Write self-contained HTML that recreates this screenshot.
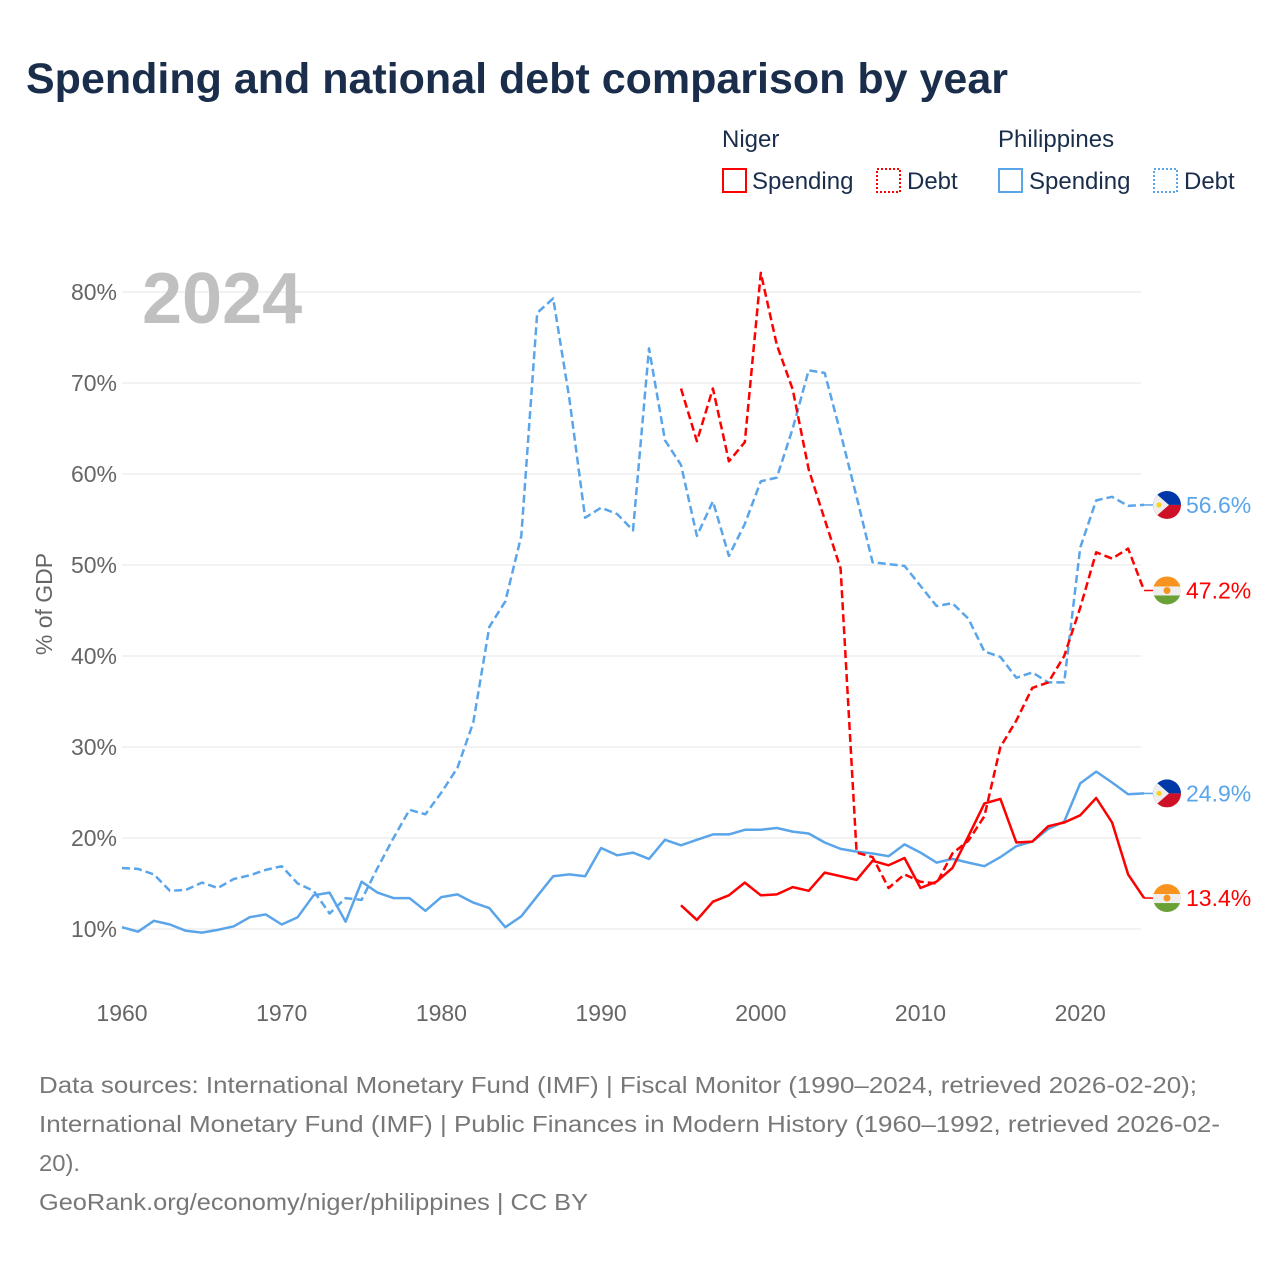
<!DOCTYPE html>
<html><head><meta charset="utf-8"><style>
html,body{margin:0;padding:0;background:#fff;}
body{width:1280px;height:1280px;overflow:hidden;font-family:"Liberation Sans",sans-serif;}
</style></head><body>
<svg width="1280" height="1280" viewBox="0 0 1280 1280" xmlns="http://www.w3.org/2000/svg" font-family="Liberation Sans, sans-serif">
<text x="26" y="93" font-size="43" font-weight="bold" fill="#1a2e4c">Spending and national debt comparison by year</text>
<g font-size="24" fill="#1a2e4c">
 <text x="722" y="147">Niger</text>
 <text x="998" y="147">Philippines</text>
 <g><rect x="723" y="169" width="23" height="23" fill="none" stroke="#f00" stroke-width="2"/><text x="752" y="189">Spending</text></g>
 <g><rect x="877" y="169" width="23" height="23" fill="none" stroke="#f00" stroke-width="2" stroke-dasharray="2,2"/><text x="907" y="189">Debt</text></g>
 <g><rect x="999" y="169" width="23" height="23" fill="none" stroke="#5aa5ea" stroke-width="2"/><text x="1029" y="189">Spending</text></g>
 <g><rect x="1154" y="169" width="23" height="23" fill="none" stroke="#5aa5ea" stroke-width="2" stroke-dasharray="2,2"/><text x="1184" y="189">Debt</text></g>
</g>
<g id="grid"></g>
<g id="yticks" font-size="23" fill="#666" text-anchor="end"></g>
<g id="xticks" font-size="23" fill="#666" text-anchor="middle"></g>
<text x="52" y="604" font-size="23" fill="#666" text-anchor="middle" transform="rotate(-90 52 604)">% of GDP</text>
<text x="142" y="323" font-size="72" font-weight="bold" fill="#c0c0c0">2024</text>
<g id="series"></g>
<g id="ends" font-size="23"></g>
<g font-size="23" fill="#777">
 <text x="39" y="1093" textLength="1158" lengthAdjust="spacingAndGlyphs">Data sources: International Monetary Fund (IMF) | Fiscal Monitor (1990–2024, retrieved 2026-02-20);</text>
 <text x="39" y="1132" textLength="1181" lengthAdjust="spacingAndGlyphs">International Monetary Fund (IMF) | Public Finances in Modern History (1960–1992, retrieved 2026-02-</text>
 <text x="39" y="1171" textLength="41" lengthAdjust="spacingAndGlyphs">20).</text>
 <text x="39" y="1210" textLength="549" lengthAdjust="spacingAndGlyphs">GeoRank.org/economy/niger/philippines | CC BY</text>
</g>
</svg>
<script>
const phSpendStart = 1960;
const phSpending = [10.2,9.7,10.9,10.5,9.8,9.6,9.9,10.3,11.3,11.6,10.5,11.3,13.7,14.0,10.8,15.2,14.0,13.4,13.4,12.0,13.5,13.8,12.9,12.3,10.2,11.4,13.6,15.8,16.0,15.8,18.9,18.1,18.4,17.7,19.8,19.2,19.8,20.4,20.4,20.9,20.9,21.1,20.7,20.5,19.5,18.8,18.5,18.3,18.0,19.3,18.4,17.3,17.7,17.3,16.9,17.9,19.1,19.6,21.0,21.8,26.0,27.3,26.1,24.8,24.9];
const phDebt = [16.7,16.6,16.0,14.2,14.3,15.1,14.5,15.5,15.9,16.5,16.9,15.0,14.2,11.7,13.4,13.2,16.7,20.0,23.1,22.6,25.0,27.7,32.7,43.2,46.0,53.2,77.7,79.3,68.4,55.2,56.3,55.6,53.8,73.8,63.7,61.0,53.2,57.0,51.0,54.5,59.2,59.6,65.0,71.4,71.1,64.5,57.5,50.3,50.1,49.9,47.7,45.5,45.8,44.1,40.5,39.9,37.6,38.2,37.1,37.1,51.9,57.1,57.5,56.5,56.6];
const neStart = 1995;
const neSpending = [12.6,11.0,13.0,13.7,15.1,13.7,13.8,14.6,14.2,16.2,15.8,15.4,17.5,17.0,17.8,14.5,15.2,16.7,20.2,23.8,24.3,19.5,19.6,21.3,21.7,22.5,24.4,21.7,16.0,13.4];
const neDebt = [69.4,63.6,69.4,61.4,63.5,82.1,74.2,69.3,60.5,55.0,49.6,18.4,17.9,14.5,16.0,15.2,15.0,18.3,19.7,22.4,30.0,32.9,36.5,37.1,40.0,45.3,51.4,50.7,51.8,47.2];
const yTicks = [10,20,30,40,50,60,70,80];
const xTicks = [1960,1970,1980,1990,2000,2010,2020];

const NS='http://www.w3.org/2000/svg';
const xS = yr => 122 + (yr-1960)*15.97;
const yS = v => 929 - (v-10)*9.1;
function mk(tag, attrs, parent){const e=document.createElementNS(NS,tag);for(const k in attrs)e.setAttribute(k,attrs[k]);parent.appendChild(e);return e;}
const grid=document.getElementById('grid'), yt=document.getElementById('yticks'), xt=document.getElementById('xticks');
yTicks.forEach(v=>{
  const l=mk('line',{x1:122,x2:1141,y1:yS(v),y2:yS(v),stroke:'#e4e4e4','stroke-width':1},grid);
  
  
  const t=mk('text',{x:117,y:yS(v)+8},yt); t.textContent=v+'%';
  
  
});
xTicks.forEach(yr=>{
  const t=mk('text',{x:xS(yr),y:1021},xt); t.textContent=yr;
  
  
});
const ser=document.getElementById('series');
function line(vals,start,color,dash,name){
  const d=vals.map((v,i)=>(i?'L':'M')+xS(start+i).toFixed(1)+' '+yS(v).toFixed(1)).join(' ');
  const p=mk('path',{d:d,fill:'none',stroke:color,'stroke-width':2.5,'stroke-linejoin':'round'},ser);
  if(dash)p.setAttribute('stroke-dasharray','8,4');
  
  
}
const BLUE='#5aa5ea', RED='#f00';
line(phDebt,phSpendStart,BLUE,true,'philippines-debt-line');
line(phSpending,phSpendStart,BLUE,false,'philippines-spending-line');
line(neDebt,neStart,RED,true,'niger-debt-line');
line(neSpending,neStart,RED,false,'niger-spending-line');

const ends=document.getElementById('ends');
function flag(type,cy){
  const g=mk('g',{},ends);
  
  
  const cx=1167,r=14;
  const id='c'+Math.round(cy);
  const cp=mk('clipPath',{id:id},g); mk('circle',{cx:cx,cy:cy,r:r},cp);
  const inner=mk('g',{'clip-path':'url(#'+id+')'},g);
  if(type==='philippines'){
    mk('rect',{x:cx-r,y:cy-r,width:2*r,height:r,fill:'#0038a8'},inner);
    mk('rect',{x:cx-r,y:cy,width:2*r,height:r,fill:'#ce1126'},inner);
    mk('polygon',{points:`${cx-r},${cy-r} ${cx+2},${cy} ${cx-r},${cy+r}`,fill:'#eee'},inner);
    mk('circle',{cx:cx-8,cy:cy,r:2.5,fill:'#fcd116'},inner);
  } else {
    mk('rect',{x:cx-r,y:cy-r,width:2*r,height:10,fill:'#f7931e'},inner);
    mk('rect',{x:cx-r,y:cy-r+10,width:2*r,height:9,fill:'#eee'},inner);
    mk('rect',{x:cx-r,y:cy-r+19,width:2*r,height:10,fill:'#6aa137'},inner);
    mk('circle',{cx:cx,cy:cy,r:3.5,fill:'#f7931e'},inner);
  }
}
function endLabel(type,val,color){
  const y=yS(val);
  const c=mk('line',{x1:xS(2024),x2:1153,y1:y,y2:y,stroke:color,'stroke-width':1.5},ends);
  
  
  flag(type,y);
  const t=mk('text',{x:1186,y:y+8,fill:color},ends); t.textContent=val.toFixed(1)+'%';
  
  
}
endLabel('philippines',phDebt[phDebt.length-1],BLUE);
endLabel('niger',neDebt[neDebt.length-1],RED);
endLabel('philippines',phSpending[phSpending.length-1],BLUE);
endLabel('niger',neSpending[neSpending.length-1],RED);
</script>
</body></html>
